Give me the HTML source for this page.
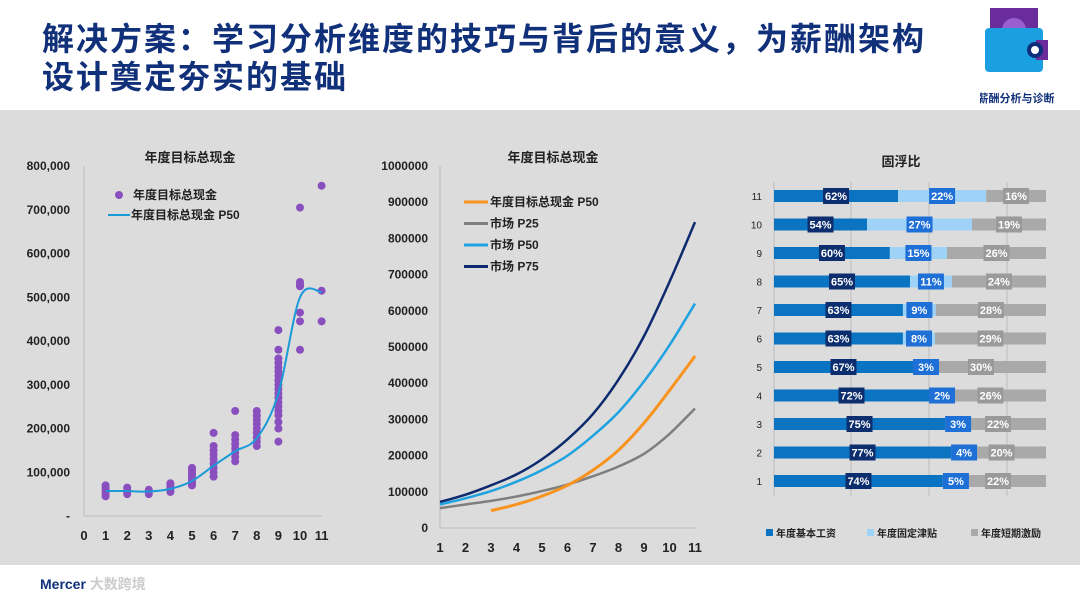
<!DOCTYPE html>
<html><head><meta charset="utf-8">
<style>
html,body{margin:0;padding:0;background:#fff;}
body{width:1080px;height:601px;position:relative;overflow:hidden;font-family:"Liberation Sans","Noto Sans CJK SC",sans-serif;}
.title{position:absolute;left:42px;top:20px;font-size:32px;font-weight:bold;color:#10307a;line-height:38px;letter-spacing:2px;}
.panel{position:absolute;left:0;top:110px;width:1080px;height:455px;background:#dcdcdc;}
svg text{font-family:"Liberation Sans","Noto Sans CJK SC",sans-serif;}
</style></head>
<body>
<div class="title">解决方案：学习分析维度的技巧与背后的意义，为薪酬架构<br>设计奠定夯实的基础</div>
<div class="panel"></div>
<svg style="position:absolute;left:980px;top:5px" width="80" height="100" viewBox="980 5 80 100">
<rect x="990" y="8" width="48" height="28" fill="#6a2c9a"/>
<circle cx="1014" cy="30" r="12" fill="#9a5ed0"/>
<rect x="985" y="28" width="58" height="44" rx="4" fill="#1aa0e0"/>
<rect x="1036" y="40" width="12" height="20" fill="#6a2c9a"/>
<circle cx="1035" cy="50" r="8" fill="#0d2e7a"/><circle cx="1035" cy="50" r="4" fill="#fff"/>
<text x="1016" y="102" font-size="11" font-weight="bold" fill="#10307a" text-anchor="middle">薪酬分析与诊断</text>
</svg>
<div style="position:absolute;left:40px;top:574px;font-size:14px;font-weight:bold;color:#10307a;">Mercer <span style="color:#ccc">大数跨境</span></div>
<svg id="c" width="1080" height="601" style="position:absolute;left:0;top:0"></svg>
<script>
const scatterGroups=[1,2,3,4,5,6,7,8,9,10,11];
const scatterValues=[
[45,50,55,60,65,70],[50,55,60,65],[50,55,60],[55,60,65,70,75],
[70,75,80,85,90,95,100,105,110],[90,100,110,120,130,140,150,160,190],
[125,135,145,155,165,175,185,240],[160,170,180,190,200,210,220,230,240],
[170,200,215,230,240,250,260,270,280,290,300,310,320,330,340,350,360,380,425],
[380,445,465,525,530,535,705],[445,515,755]];
const p50Left=[57,57,56,62,80,115,148,178,280,500,512];
const leftTicks=["-","100,000","200,000","300,000","400,000","500,000","600,000","700,000","800,000"];
const midX=[1,2,3,4,5,6,7,8,9,10,11];
const mktP75=[72,92,118,148,190,245,315,410,530,680,845];
const mktP50=[65,82,102,128,160,200,255,320,405,505,620];
const mktP25=[55,65,75,87,102,120,143,170,205,260,330];
const ownP50X=[3,4,5,6,7,8,9,10,11];
const ownP50=[48,65,88,118,160,215,290,380,475];
const midTicks=["0","100000","200000","300000","400000","500000","600000","700000","800000","900000","1000000"];
const grades=[11,10,9,8,7,6,5,4,3,2,1];
const baseSalLabel=[62,54,60,65,63,63,67,72,75,77,74];
const fixedLabel=[22,27,15,11,9,8,3,2,3,4,5];
const stiLabel=[16,19,26,24,28,29,30,26,22,20,22];
const baseSalLen=[45.6,34.2,42.6,50,47.4,47.4,51.1,57,62.9,65.1,62.1];
const fixedLen=[32.4,38.6,21,15.4,12.1,11.8,1.1,2.2,1.8,2.2,2.6];

const svg=document.getElementById('c');const NS='http://www.w3.org/2000/svg';
function el(t,a,p){const e=document.createElementNS(NS,t);for(const k in a)e.setAttribute(k,a[k]);(p||svg).appendChild(e);return e;}
function tx(x,y,s,o){const e=el('text',Object.assign({x:x,y:y,'font-size':12,'font-weight':'bold',fill:'#222'},o||{}));e.textContent=s;return e;}
function curve(pts){let d='M'+pts[0][0]+','+pts[0][1];for(let i=0;i<pts.length-1;i++){const p0=pts[i-1]||pts[i],p1=pts[i],p2=pts[i+1],p3=pts[i+2]||p2;d+=' C'+(p1[0]+(p2[0]-p0[0])/6)+','+(p1[1]+(p2[1]-p0[1])/6)+' '+(p2[0]-(p3[0]-p1[0])/6)+','+(p2[1]-(p3[1]-p1[1])/6)+' '+p2[0]+','+p2[1];}return d;}

// Left chart
const lx=v=>84+v*21.6, ly=v=>516-v*0.4375;
let g=el('g',{});
tx(190,162,'年度目标总现金',{'text-anchor':'middle','font-size':13});
el('line',{x1:84,y1:166,x2:84,y2:516,stroke:'#bbb'});el('line',{x1:84,y1:516,x2:322,y2:516,stroke:'#bbb'});
leftTicks.forEach((t,i)=>{const e=tx(70,ly(i*100)+4,t,{'text-anchor':'end'});});
for(let i=0;i<=11;i++){const e=tx(lx(i),540,String(i),{'text-anchor':'middle','font-size':13});}
scatterGroups.forEach((gx,i)=>scatterValues[i].forEach(v=>{const c=el('circle',{cx:lx(gx),cy:ly(v),r:4,fill:'#8a4fbf'},g);}));
let pl=el('path',{d:curve(p50Left.map((v,i)=>[lx(scatterGroups[i]),ly(v)])),fill:'none',stroke:'#1a9ad8','stroke-width':2},g);

el('circle',{cx:119,cy:195,r:4,fill:'#8a4fbf'});tx(133,199,'年度目标总现金');
el('line',{x1:108,y1:215,x2:130,y2:215,stroke:'#1a9ad8','stroke-width':2});tx(131,219,'年度目标总现金 P50');

// Middle chart
const mx=v=>440+(v-1)*25.5, my=v=>528-v*0.362;
tx(553,162,'年度目标总现金',{'text-anchor':'middle','font-size':13});
el('line',{x1:440,y1:166,x2:440,y2:528,stroke:'#bbb'});el('line',{x1:440,y1:528,x2:695,y2:528,stroke:'#bbb'});
midTicks.forEach((t,i)=>{const e=tx(428,my(i*100)+4,t,{'text-anchor':'end'});});
midX.forEach(v=>{const e=tx(mx(v),552,String(v),{'text-anchor':'middle','font-size':13});});
[[mktP25,'#7f7f7f','market-p25'],[mktP50,'#1fa3e0','market-p50'],[mktP75,'#0d2a6e','market-p75']].forEach(s=>{const p=el('path',{d:curve(s[0].map((v,i)=>[mx(midX[i]),my(v)])),fill:'none',stroke:s[1],'stroke-width':2.5});});
let op=el('path',{d:curve(ownP50.map((v,i)=>[mx(ownP50X[i]),my(v)])),fill:'none',stroke:'#f7931e','stroke-width':3});

[['年度目标总现金 P50','#f7931e'],['市场 P25','#7f7f7f'],['市场 P50','#1fa3e0'],['市场 P75','#0d2a6e']].forEach((l,i)=>{const y=202+i*21.5;el('line',{x1:464,y1:y,x2:488,y2:y,stroke:l[1],'stroke-width':3});tx(490,y+4,l[0]);});

// Right chart
const rx=v=>774+v*2.72, ry=i=>196+i*28.5;
tx(901,166,'固浮比',{'text-anchor':'middle','font-size':13});
[774,851,929,1007].forEach(x=>el('line',{x1:x,y1:182,x2:x,y2:496,stroke:'#bbb'}));
grades.forEach((gd,i)=>{
 const y=ry(i);tx(762,y+4,String(gd),{'text-anchor':'end','font-size':10,'font-weight':'normal'});
 const segs=[[baseSalLen[i],baseSalLabel[i],'#0b74c2','#0d2e6e','base-salary-bar'],[fixedLen[i],fixedLabel[i],'#9fd2f7','#1e6fd6','fixed-allowance-bar'],[100-baseSalLen[i]-fixedLen[i],stiLabel[i],'#a9a9a9','#9a9a9a','short-incentive-bar']];
 let acc=0;const labels=[];
 segs.forEach(s=>{const r=el('rect',{x:rx(acc),y:y-6,width:s[0]*2.72,height:12,fill:s[2]});
  labels.push([Math.max(rx(acc+s[0]/2),rx(acc)+13),s[1],s[3]]);acc+=s[0];});
 labels.forEach(l=>{el('rect',{x:l[0]-13,y:y-8,width:26,height:16,fill:l[2]});tx(l[0],y+4,l[1]+'%',{'text-anchor':'middle','font-size':11,fill:'#fff'});});
});
[['年度基本工资','#0b74c2',766],['年度固定津贴','#9fd2f7',867],['年度短期激励','#a9a9a9',971]].forEach(l=>{el('rect',{x:l[2],y:529,width:7,height:7,fill:l[1]});tx(l[2]+10,537,l[0],{'font-size':10});});
</script>
</body></html>
